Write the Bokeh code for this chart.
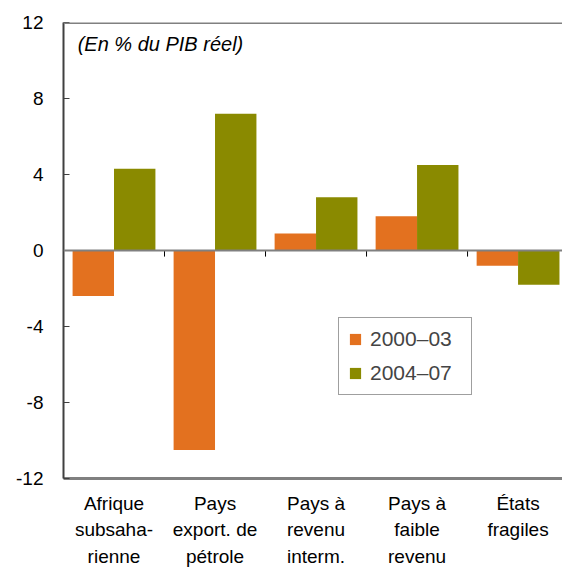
from bokeh.plotting import figure
from bokeh.models import (ColumnDataSource, Range1d, LinearAxis, FixedTicker,
                          Label, Legend, LegendItem, Span)
from bokeh.embed import file_html
from bokeh.resources import INLINE

categories = ["Afrique\nsubsaha-\nrienne", "Pays\nexport. de\npétrole",
              "Pays à\nrevenu\ninterm.", "Pays à\nfaible\nrevenu", "États\nfragiles"]
series_2000_03 = [-2.4, -10.5, 0.9, 1.8, -0.8]
series_2004_07 = [4.3, 7.2, 2.8, 4.5, -1.8]
y_ticks = [-12, -8, -4, 0, 4, 8, 12]
y_tick_labels = ["-12", "-8", "-4", "0", "4", "8", "12"]

ORANGE = "#E3711F"
OLIVE = "#8A8A00"
FONT = "Liberation Sans"

centers = [i + 0.5 for i in range(len(categories))]
boundaries = [i for i in range(len(categories))]
bar_w = 0.41
src = ColumnDataSource(dict(
    x1=[c - bar_w / 2 for c in centers],
    x2=[c + bar_w / 2 for c in centers],
    a=series_2000_03,
    b=series_2004_07,
))

p = figure(frame_width=499, frame_height=456, output_backend="svg", toolbar_location=None,
           x_range=Range1d(0, 4.94), y_range=Range1d(-12, 12),
           min_border_left=63, min_border_right=0, min_border_top=22,
           min_border_bottom=0, x_axis_type=None, y_axis_type=None)
p.outline_line_color = None
p.xgrid.visible = False
p.ygrid.visible = False
p.background_fill_color = "white"
p.border_fill_color = "white"

r1 = p.vbar(x="x1", top="a", bottom=0, width=bar_w, source=src,
            fill_color=ORANGE, line_color=None)
r2 = p.vbar(x="x2", top="b", bottom=0, width=bar_w, source=src,
            fill_color=OLIVE, line_color=None)

# zero line and category separators
p.add_layout(Span(location=0, dimension="width", line_color="#808080", line_width=2))
p.segment(x0=boundaries, x1=boundaries, y0=[0] * len(boundaries),
          y1=[-0.32] * len(boundaries), line_color="black", line_width=1)

# top border
p.add_layout(Span(location=12, dimension="width", line_color="#808080", line_width=3))

# y axis
yax = LinearAxis(ticker=FixedTicker(ticks=y_ticks),
                 major_label_overrides={t: s for t, s in zip(y_ticks, y_tick_labels)})
yax.axis_line_color = "#404040"
yax.axis_line_width = 2
yax.major_tick_in = 6
yax.major_tick_out = 0
yax.major_tick_line_color = "#404040"
yax.minor_tick_line_color = None
yax.major_label_text_font = FONT
yax.major_label_text_font_size = "19px"
yax.major_label_text_color = "black"
yax.major_label_standoff = 20
p.add_layout(yax, "left")

# x axis with category labels
xax = LinearAxis(ticker=FixedTicker(ticks=centers),
                 major_label_overrides={c: lab for c, lab in zip(centers, categories)})
xax.axis_line_color = "#808080"
xax.axis_line_width = 3
xax.major_tick_line_color = None
xax.minor_tick_line_color = None
xax.major_label_text_font = FONT
xax.major_label_text_font_size = "19px"
xax.major_label_text_color = "black"
xax.major_label_text_line_height = 1.28
xax.major_label_standoff = 8
p.add_layout(xax, "below")

p.add_layout(Label(x=0.14, y=11.45, text="(En % du PIB réel)", text_font=FONT,
                   text_font_size="20px", text_font_style="italic",
                   text_baseline="top", text_color="black"))

legend = Legend(items=[LegendItem(label="2000–03", renderers=[r1]),
                       LegendItem(label="2004–07", renderers=[r2])],
                location=(275, 83))
legend.border_line_color = "#404040"
legend.border_line_width = 1
legend.label_text_font = FONT
legend.label_text_font_size = "21px"
legend.glyph_width = 14
legend.glyph_height = 14
legend.spacing = 10
legend.padding = 9
legend.margin = 0
legend.label_standoff = 8
legend.label_width = 92
legend.background_fill_alpha = 1
p.add_layout(legend, "center")

open("out.html", "w").write(file_html(p, INLINE))
